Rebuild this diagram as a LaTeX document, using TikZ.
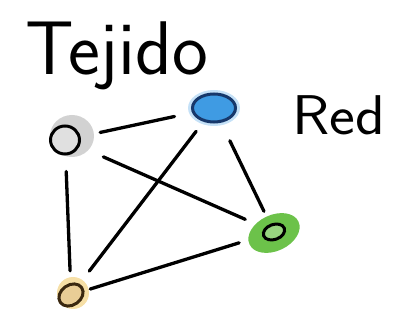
\documentclass[tikz,border=0pt]{standalone}
\usetikzlibrary{shapes.geometric}
\begin{document}
\begin{tikzpicture}[x=1pt,y=-1pt,
  vert/.style={ellipse, draw, line width=3pt, inner sep=0pt},
  link/.style={line width=3.3pt, line cap=round, black}]
\useasboundingbox (0,0) rectangle (416,326);
\definecolor{halogray}{HTML}{D2D2D2}
\definecolor{fillgray}{HTML}{E0E0E0}
\definecolor{blueF}{HTML}{3F9BE3}
\definecolor{blueD}{HTML}{17386B}
\definecolor{halogreen}{HTML}{6CC24A}
\definecolor{haloorange}{HTML}{F6DFA6}
\definecolor{orangeF}{HTML}{E9CD96}
\definecolor{orangeD}{HTML}{3A2810}
% halos
\fill[halogray] (72,136) ellipse [x radius=22, y radius=21];
\fill[blueF!30] (214,108) ellipse [x radius=26, y radius=18];
\fill[halogreen, rotate around={25:(274,233)}] (274,233) ellipse [x radius=27, y radius=18];
\fill[haloorange] (73,293) ellipse [x radius=16, y radius=16];
% vertices
\node[vert, fill=fillgray, minimum width=29pt, minimum height=28pt] (g) at (65,140) {};
\node[vert, draw=blueD, fill=blueF, minimum width=43pt, minimum height=28pt] (b) at (214,108) {};
\node[vert, fill=halogreen!70!white, minimum width=22pt, minimum height=15pt, rotate=20] (gr) at (274,232) {};
\node[vert, draw=orangeD, fill=orangeF, minimum width=26pt, minimum height=20pt, rotate=35] (o) at (71,295) {};
% connectors
\draw[link, shorten <=20pt, shorten >=18pt] (g) -- (b);
\draw[link, shorten <=26pt, shorten >=21pt] (g) -- (gr);
\draw[link, shorten <=16pt, shorten >=12pt] (g) -- (o);
\draw[link, shorten <=12pt, shorten >=16pt] (b) -- (o);
\draw[link, shorten <=20pt, shorten >=14pt] (b) -- (gr);
\draw[link, shorten <=6pt, shorten >=24pt] (o) -- (gr);
% labels
\node[anchor=base west, inner sep=0pt, font=\sffamily\fontsize{76}{76}\selectfont] (t1) at (25,75) {Tejido};
\node[anchor=base west, inner sep=0pt, font=\sffamily\fontsize{56}{56}\selectfont, xscale=1.1] (t2) at (292,135) {Red};
\end{tikzpicture}
\end{document}
